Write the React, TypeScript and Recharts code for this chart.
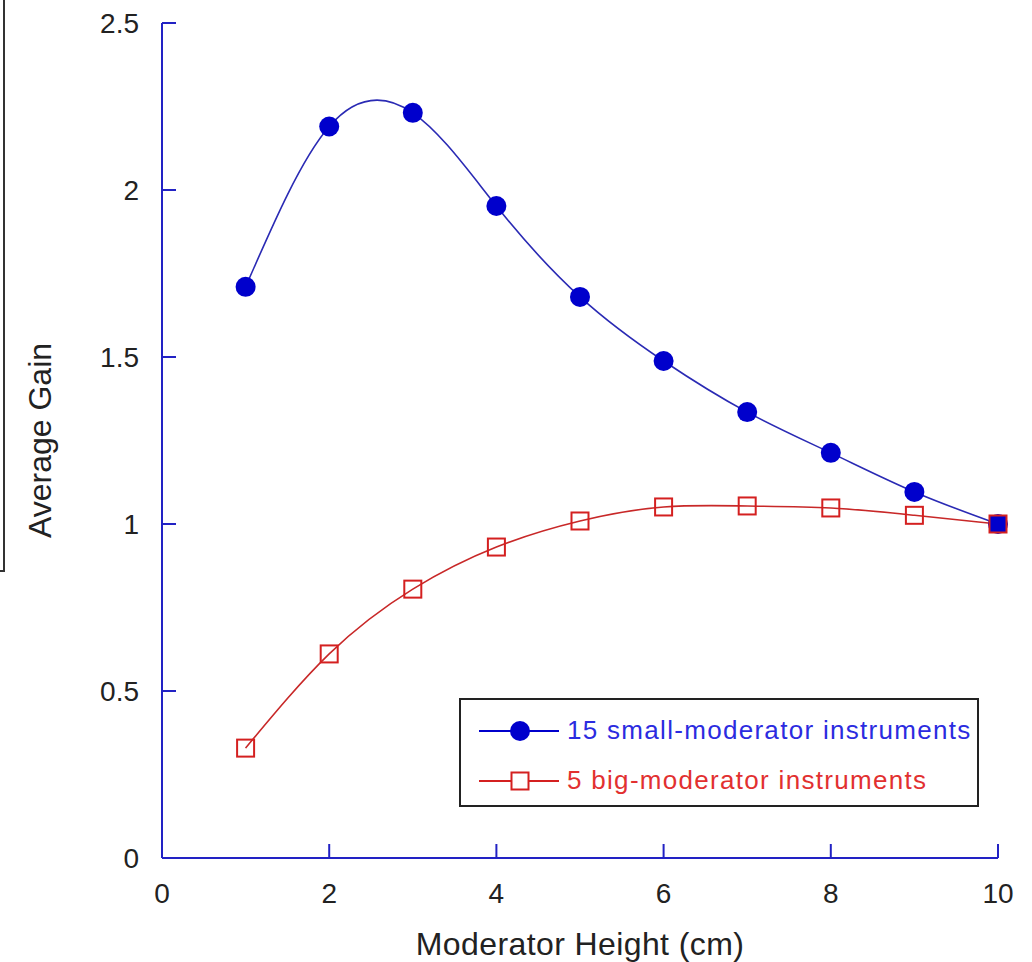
import { LineChart, Line, XAxis, YAxis, Label, Legend } from 'recharts'

// moderator height in cm
const heights = [1, 2, 3, 4, 5, 6, 7, 8, 9, 10]
// average gain, 15 small-moderator instruments
const smallModerator = [1.71, 2.19, 2.231, 1.952, 1.68, 1.488, 1.335, 1.213, 1.096, 1.0]
// average gain, 5 big-moderator instruments
const bigModerator = [0.329, 0.611, 0.805, 0.931, 1.009, 1.051, 1.054, 1.048, 1.026, 1.0]

const xTicks = [0, 2, 4, 6, 8, 10]
const yTicks = [0, 0.5, 1, 1.5, 2, 2.5]

const SMALL_NAME = '15 small-moderator instruments'
const BIG_NAME = '5 big-moderator instruments'

const data = heights.map((h, i) => ({ height: h, small: smallModerator[i], big: bigModerator[i] }))

const FRAME = '#2222c4'
const BLUE = '#0000cc'
const RED = '#d42020'
const FONT = '"Liberation Sans", Arial, sans-serif'

// chart layout
const WIDTH = 1032
const HEIGHT = 962
const MARGIN = { top: 23, right: 34, bottom: 0, left: 0 }
const X_AXIS_H = 104
const Y_AXIS_W = 162
const PLOT_LEFT = MARGIN.left + Y_AXIS_W
const PLOT_RIGHT = WIDTH - MARGIN.right
const PLOT_TOP = MARGIN.top
const PLOT_BOTTOM = HEIGHT - MARGIN.bottom - X_AXIS_H
const TICK_LEN = 14

const textProps = { fontSize: 28, fill: '#222', fontFamily: FONT }

// ticks point into the plot, so each tick draws its own mark plus label
const BottomTick = (props: any) => {
    const { x, payload } = props
    return (
        <g>
            <line x1={x} x2={x} y1={PLOT_BOTTOM} y2={PLOT_BOTTOM - TICK_LEN} stroke={FRAME} strokeWidth={2} />
            <text x={x} y={PLOT_BOTTOM + 25} dy="0.71em" textAnchor="middle" {...textProps}>
                {payload.value}
            </text>
        </g>
    )
}

const LeftTick = (props: any) => {
    const { y, payload } = props
    return (
        <g>
            <line x1={PLOT_LEFT} x2={PLOT_LEFT + TICK_LEN} y1={y} y2={y} stroke={FRAME} strokeWidth={2} />
            <text x={PLOT_LEFT - 23} y={y} dy="0.355em" textAnchor="end" {...textProps}>
                {payload.value}
            </text>
        </g>
    )
}

const TopTick = (props: any) => {
    const { x } = props
    return <line x1={x} x2={x} y1={PLOT_TOP} y2={PLOT_TOP + TICK_LEN} stroke={FRAME} strokeWidth={2} />
}

const RightTick = (props: any) => {
    const { y } = props
    return <line x1={PLOT_RIGHT} x2={PLOT_RIGHT - TICK_LEN} y1={y} y2={y} stroke={FRAME} strokeWidth={2} />
}

const SmallDot = (props: any) => {
    const { cx, cy } = props
    if (cx == null || cy == null) return null
    return <circle cx={cx} cy={cy} r={10} fill={BLUE} stroke="none" />
}

const BigDot = (props: any) => {
    const { cx, cy, payload } = props
    if (cx == null || cy == null) return null
    // where both series meet the square is drawn over the filled blue marker
    const shared = payload && payload.small === payload.big
    return (
        <rect
            x={cx - 8.5}
            y={cy - 8.5}
            width={17}
            height={17}
            fill={shared ? BLUE : 'none'}
            stroke={RED}
            strokeWidth={2}
        />
    )
}

const LegendBox = () => (
    <div
        style={{
            width: 516,
            height: 105,
            border: '2px solid #222',
            background: '#fff',
            position: 'relative',
            fontFamily: FONT,
        }}
    >
        <svg width={110} height={105} style={{ position: 'absolute', left: 0, top: 0 }}>
            <line x1={18} x2={98} y1={31} y2={31} stroke={BLUE} strokeWidth={2} />
            <circle cx={59} cy={31} r={10} fill={BLUE} />
            <line x1={18} x2={98} y1={81} y2={81} stroke={RED} strokeWidth={2} />
            <rect x={50.5} y={72.5} width={17} height={17} fill="#fff" stroke={RED} strokeWidth={2} />
        </svg>
        <div style={{ position: 'absolute', left: 106, top: 14, fontSize: 26, letterSpacing: 1.3, color: '#2b2be0', lineHeight: '32px' }}>
            {SMALL_NAME}
        </div>
        <div style={{ position: 'absolute', left: 106, top: 64, fontSize: 26, letterSpacing: 1.3, color: '#e23030', lineHeight: '32px' }}>
            {BIG_NAME}
        </div>
    </div>
)

export default function App() {
    const axisLine = { stroke: FRAME, strokeWidth: 2 }

    return (
        <div style={{ position: 'absolute', left: 0, top: 0, width: WIDTH, height: HEIGHT, background: '#fff' }}>
            <div
                style={{
                    position: 'absolute',
                    left: 0,
                    top: 0,
                    width: 3,
                    height: 570,
                    borderRight: '2px solid #333',
                    borderBottom: '2px solid #333',
                }}
            />
            <LineChart width={WIDTH} height={HEIGHT} data={data} margin={MARGIN}>
                <XAxis
                    dataKey="height"
                    type="number"
                    domain={[0, 10]}
                    ticks={xTicks}
                    interval={0}
                    height={X_AXIS_H}
                    tickLine={false}
                    axisLine={axisLine}
                    tick={<BottomTick />}
                >
                    <Label
                        value="Moderator Height (cm)"
                        position="insideBottom"
                        offset={7}
                        style={{ fontSize: 32, fill: '#222', fontFamily: FONT, letterSpacing: 0.4 }}
                    />
                </XAxis>
                <XAxis
                    xAxisId="top"
                    orientation="top"
                    dataKey="height"
                    type="number"
                    domain={[0, 10]}
                    ticks={xTicks}
                    interval={0}
                    height={0}
                    tickLine={false}
                    axisLine={axisLine}
                    tick={<TopTick />}
                />
                <YAxis
                    type="number"
                    domain={[0, 2.5]}
                    ticks={yTicks}
                    interval={0}
                    width={Y_AXIS_W}
                    tickLine={false}
                    axisLine={axisLine}
                    tick={<LeftTick />}
                >
                    <Label
                        value="Average Gain"
                        angle={-90}
                        position="insideLeft"
                        offset={40}
                        style={{ fontSize: 32, fill: '#222', fontFamily: FONT, textAnchor: 'middle' }}
                    />
                </YAxis>
                <YAxis
                    yAxisId="right"
                    orientation="right"
                    type="number"
                    domain={[0, 2.5]}
                    ticks={yTicks}
                    interval={0}
                    width={0}
                    tickLine={false}
                    axisLine={axisLine}
                    tick={<RightTick />}
                />
                <Legend
                    layout="vertical"
                    verticalAlign="middle"
                    align="center"
                    content={() => <LegendBox />}
                    wrapperStyle={{ left: 459, top: 698, width: 520, height: 109, margin: 0 }}
                />
                <Line
                    type="natural"
                    dataKey="small"
                    name={SMALL_NAME}
                    stroke="#2a2ab4"
                    strokeWidth={1.6}
                    dot={<SmallDot />}
                    activeDot={false}
                    isAnimationActive={false}
                />
                <Line
                    type="natural"
                    dataKey="big"
                    name={BIG_NAME}
                    stroke="#c82828"
                    strokeWidth={1.6}
                    dot={<BigDot />}
                    activeDot={false}
                    isAnimationActive={false}
                />
            </LineChart>
        </div>
    )
}
